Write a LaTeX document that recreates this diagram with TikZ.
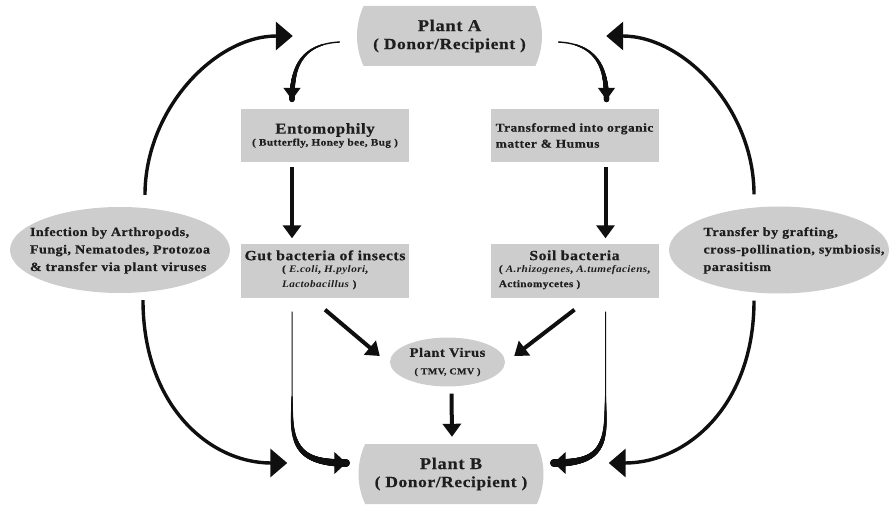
\documentclass[tikz,border=0pt]{standalone}
\usepackage{fontspec}
\setmainfont{Liberation Serif}[FakeStretch=1.12,LetterSpace=4,BoldFeatures={FakeBold=0.5}]
\usetikzlibrary{arrows.meta,shapes.geometric,shapes.misc,decorations.markings}
\definecolor{boxgray}{RGB}{205,205,205}
\definecolor{inkgray}{RGB}{30,30,30}
\definecolor{arrowink}{RGB}{15,15,15}

\begin{document}
\begin{tikzpicture}[x=1pt, y=-1pt,
    plant/.style={rounded rectangle, rounded rectangle arc length=50, fill=boxgray, minimum width=185pt, minimum height=60pt, inner sep=0pt, align=center, text=inkgray, font=\bfseries\fontsize{16.5}{18}\selectfont},
    box/.style={rectangle, fill=boxgray, minimum width=168pt, minimum height=53pt, inner sep=0pt, align=center, text=inkgray, font=\bfseries},
    oval/.style={ellipse, fill=boxgray, inner sep=0pt, align=center, text=inkgray, font=\bfseries\fontsize{12.5}{17.5}\selectfont},
    taper/.style n args={3}{postaction={decorate, decoration={markings, mark=between positions #1 and 1 step 0.3pt with {\pgfmathsetmacro\taperr{#2+#3*(\pgfkeysvalueof{/pgf/decoration/mark info/distance from start}/\pgfdecoratedpathlength-#1)/(1-#1)}\fill (0,0) circle (\taperr pt);}}}},
    bigarrow/.style={arrowink, line width=3.4pt, -{Triangle[length=17pt,width=28pt]}},
    flowarrow/.style={arrowink, line width=4pt, -{Triangle[length=13pt,width=18pt]}},
    bendarrow/.style={arrowink, line width=1.4pt, -{Triangle[length=12pt,width=17pt]}, taper={0.2}{0.7}{2}},
    sidearrow/.style={arrowink, line width=1pt, -{Triangle[length=12pt,width=22pt]}, taper={0.45}{0.5}{3.5}}]
  \useasboundingbox (0,0) rectangle (889,505);

  \node[plant] (pa) at (449.5,36) {Plant A\\{\fontsize{15.5}{18}\selectfont ( Donor/Recipient )}};
  \node[plant] (pb) at (451,474) {Plant B\\{\fontsize{15.5}{18}\selectfont ( Donor/Recipient )}};

  \node[box] (ento) at (325,135.5) {{\fontsize{15}{15}\selectfont Entomophily}\\{\fontsize{10}{15}\selectfont ( Butterfly, Honey bee, Bug )}};
  \node[box, align=left, font=\bfseries\fontsize{12}{16}\selectfont] (trans) at (574.5,135.5) {Transformed into organic\\matter \& Humus};
  \node[box] (gut) at (325,271) {{\fontsize{14}{15}\selectfont Gut bacteria of insects}\\{\fontsize{10}{15}\selectfont\begin{tabular}[t]{@{}l@{}}( \textit{E.coli}, \textit{H.pylori},\\\textit{Lactobacillus} )\end{tabular}}};
  \node[box] (soil) at (574.5,271) {{\fontsize{14}{15}\selectfont Soil bacteria}\\{\fontsize{10}{15}\selectfont\begin{tabular}[t]{@{}l@{}}( \textit{A.rhizogenes}, \textit{A.tumefaciens},\\Actinomycetes )\end{tabular}}};

  \node[oval, minimum width=115pt, minimum height=49pt] (virus) at (447.5,362) {{\fontsize{13}{17}\selectfont Plant Virus}\\{\fontsize{9}{17}\selectfont ( TMV, CMV )}};
  \node[oval, minimum width=220pt, minimum height=86pt] (infect) at (120,250) {\makebox[0pt]{\begin{tabular}{@{}l@{}}Infection by Arthropods,\\Fungi, Nematodes, Protozoa\\\& transfer via plant viruses\end{tabular}}};
  \node[oval, minimum width=220pt, minimum height=87pt] (graft) at (779,250) {\makebox[0pt]{\hspace*{30pt}\begin{tabular}{@{}l@{}}Transfer by grafting,\\cross-pollination, symbiosis,\\parasitism\end{tabular}}};

  \draw[bigarrow] ([xshift=25pt,yshift=12pt]infect.north) .. controls +(0,-85) and +(-78,0) .. ([xshift=-64pt]pa.west);
  \draw[bigarrow] ([xshift=-25pt,yshift=12pt]graft.north) .. controls +(0,-85) and +(78,0) .. ([xshift=64pt]pa.east);
  \draw[bigarrow] ([xshift=23pt,yshift=-7pt]infect.south) .. controls +(0,105) and +(-78,0) .. ([xshift=-71pt,yshift=11pt]pb.west);
  \draw[bigarrow] ([xshift=-25pt,yshift=-7pt]graft.south) .. controls +(0,105) and +(78,0) .. ([xshift=65pt,yshift=11pt]pb.east);

  \draw[bendarrow] ([xshift=-17pt,yshift=-6pt]pa.west) .. controls +(-40,2) and +(0,-30) .. ([xshift=-33pt,yshift=9pt]ento.north);
  \draw[bendarrow] ([xshift=16pt,yshift=-6pt]pa.east) .. controls +(40,2) and +(0,-30) .. ([xshift=32pt,yshift=9pt]trans.north);

  \draw[flowarrow] ([xshift=-33pt,yshift=-5pt]ento.south) -- ([xshift=-33pt,yshift=6pt]gut.north);
  \draw[flowarrow] ([xshift=31pt,yshift=-5pt]trans.south) -- ([xshift=31pt,yshift=6pt]soil.north);
  \draw[flowarrow] ([yshift=-12pt]gut.south) -- ([xshift=-10pt,yshift=6pt]virus.west);
  \draw[flowarrow] ([yshift=-12pt]soil.south) -- ([xshift=9pt,yshift=6pt]virus.east);
  \draw[flowarrow] ([xshift=4pt,yshift=-7pt]virus.south) -- ([xshift=1pt,yshift=7pt]pb.north);

  \draw[sidearrow] ([xshift=-33pt,yshift=-14pt]gut.south) -- ++(0,103) .. controls +(0,37) and +(-40,0) .. ([xshift=-12pt,yshift=11pt]pb.west);
  \draw[sidearrow] ([xshift=31pt,yshift=-14pt]soil.south) -- ++(0,103) .. controls +(0,37) and +(40,0) .. ([xshift=10pt,yshift=11pt]pb.east);
\end{tikzpicture}
\end{document}
